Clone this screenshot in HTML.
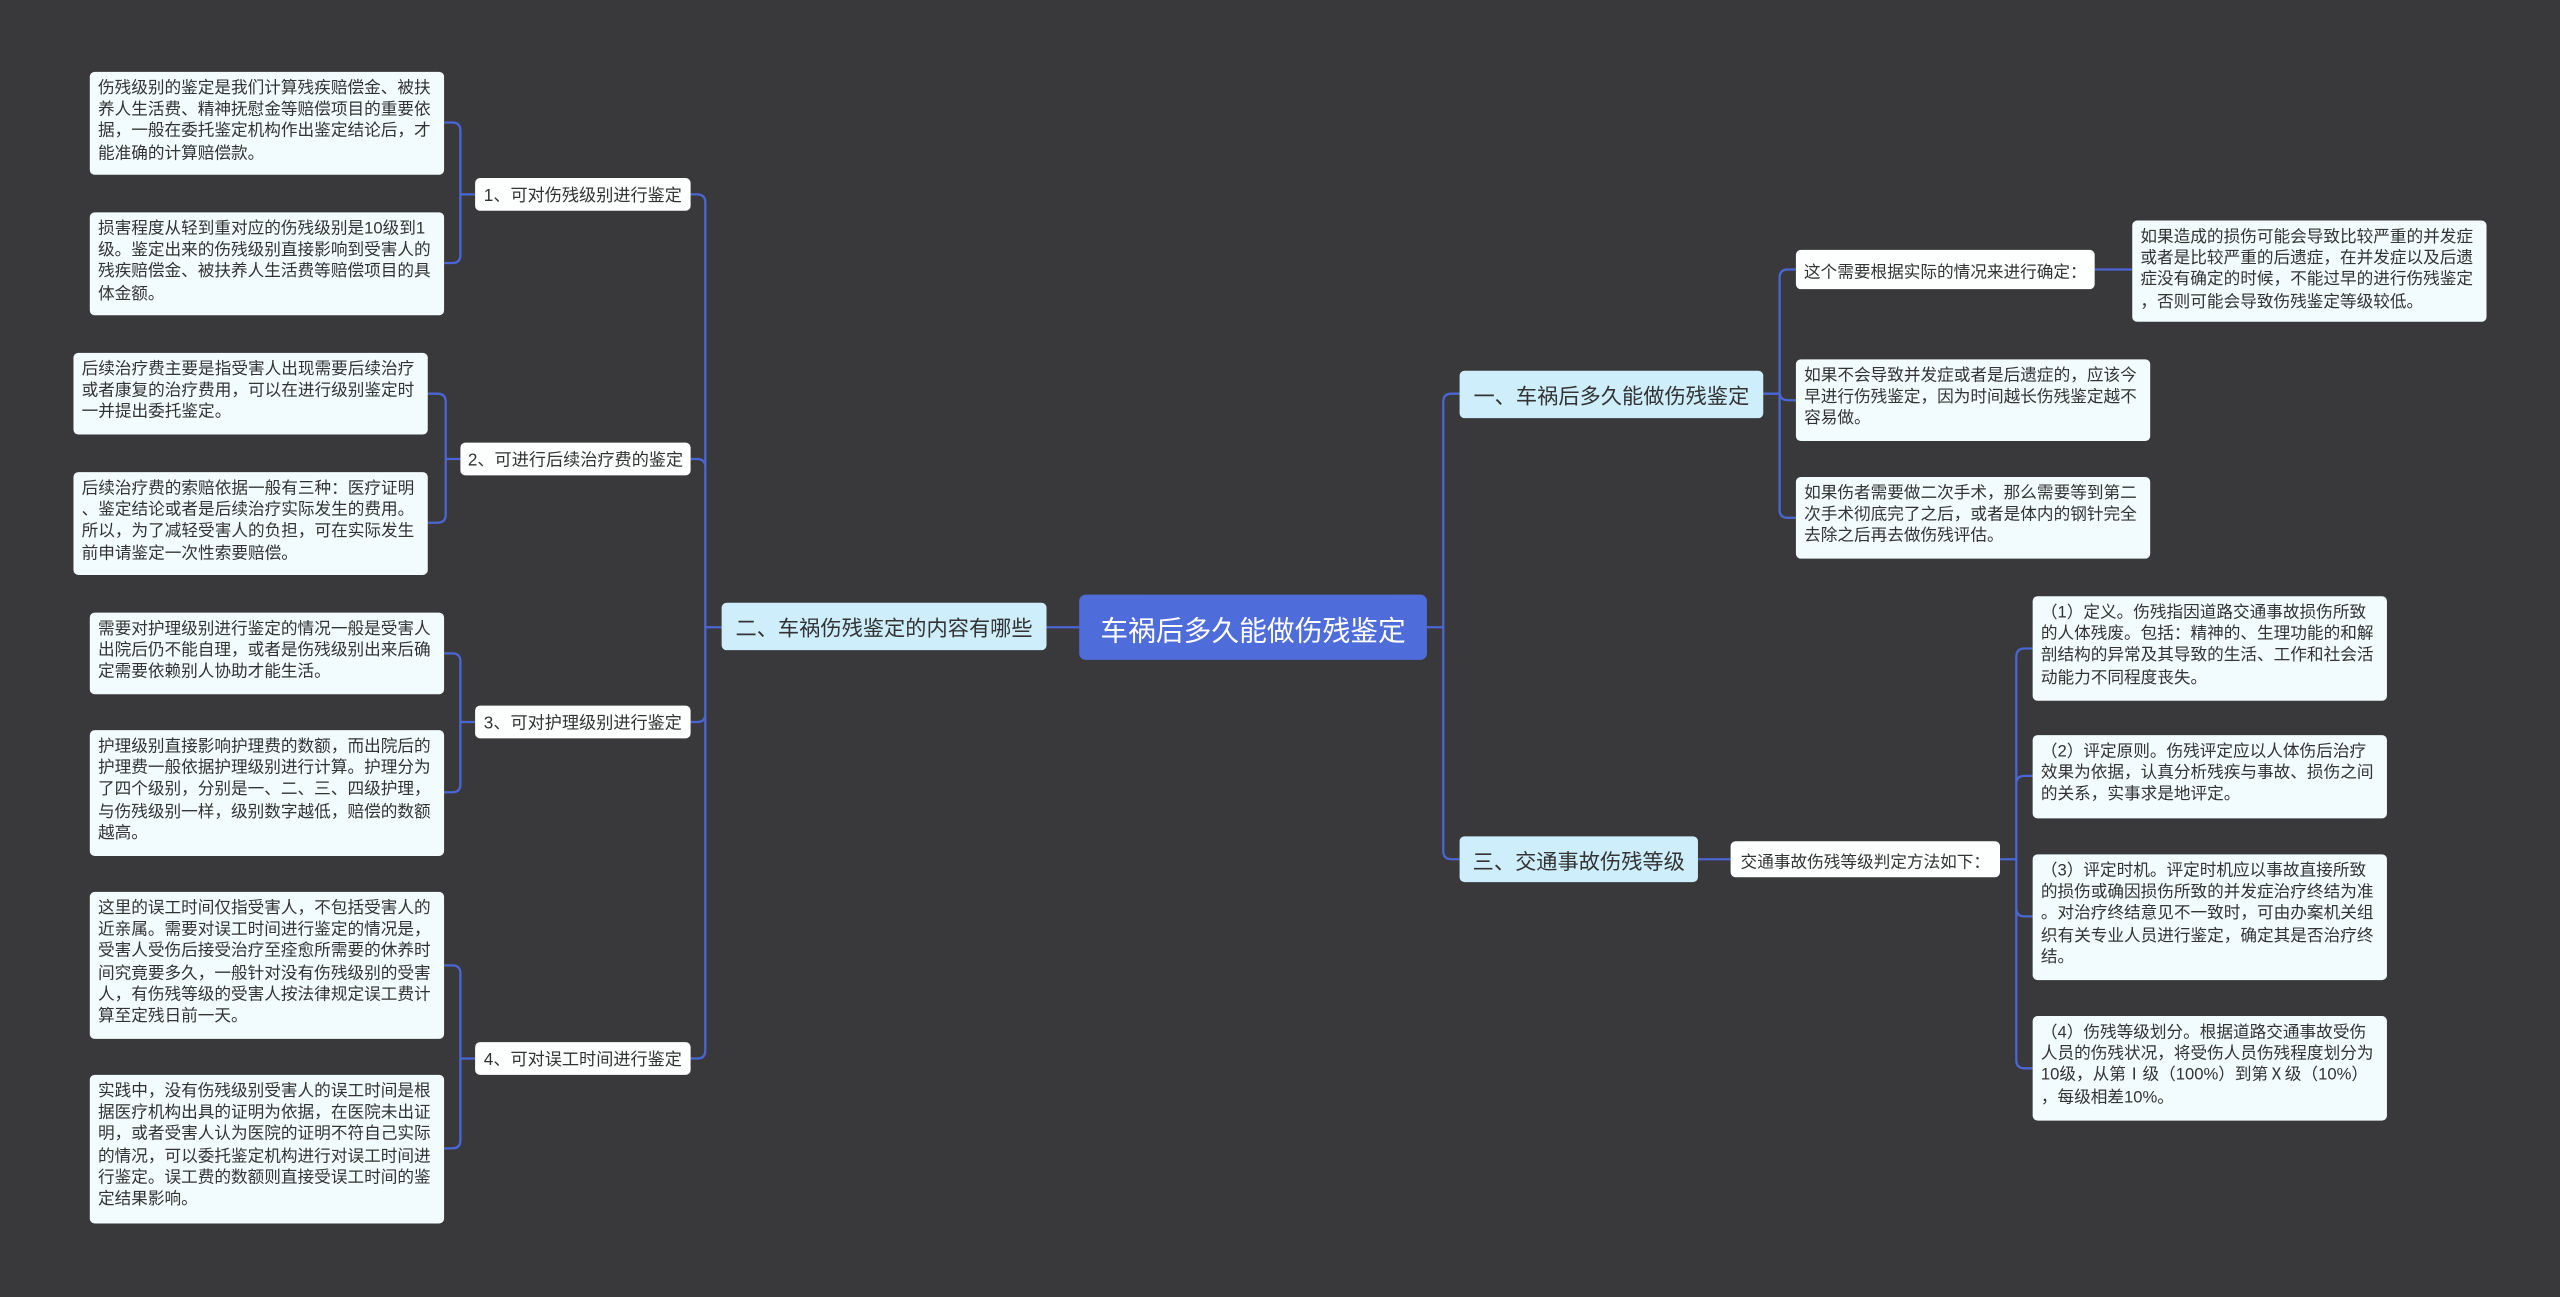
<!DOCTYPE html>
<html><head><meta charset="utf-8"><style>
html,body{margin:0;padding:0;background:#39383b;}
#wrap{width:2560px;height:1297px;overflow:hidden;position:relative;background:#39383b;}
#s{position:absolute;left:0;top:0;width:1568px;height:794px;transform:scale(1.63265,1.6335);transform-origin:0 0;font-family:"Liberation Sans","Noto Sans CJK SC",sans-serif;}
.b{position:absolute;box-sizing:border-box;border-radius:3px;white-space:nowrap;color:#333;}
.leaf{background:#f2fbfd;font-size:10.2px;line-height:13.2px;padding:4px 5px;}
.l2{background:#fdfefe;font-size:10.5px;display:flex;align-items:center;justify-content:center;}
.l1{background:#cdeefa;font-size:13px;display:flex;align-items:center;justify-content:center;color:#333;}
.c{background:#4f6cdb;color:#fff;font-size:17px;display:flex;align-items:center;justify-content:center;border-radius:4px;}
svg{position:absolute;left:0;top:0;}
</style></head><body><div id="wrap"><div id="s">
<svg width="1568" height="794" viewBox="0 0 1568 794"><g id="g" fill="none" stroke="#4a66d4" stroke-width="1.4"></g></svg>

<div class="b c" style="left:661px;top:364px;width:213px;height:40px">车祸后多久能做伤残鉴定</div>
<div class="b l1" style="left:442px;top:369px;width:199px;height:29px">二、车祸伤残鉴定的内容有哪些</div>
<div class="b l1" style="left:894px;top:227px;width:186px;height:29px">一、车祸后多久能做伤残鉴定</div>
<div class="b l1" style="left:894px;top:512px;width:146px;height:28px">三、交通事故伤残等级</div>

<div class="b l2" style="left:291px;top:109px;width:132px;height:20px">1、可对伤残级别进行鉴定</div>
<div class="b l2" style="left:282px;top:271px;width:141px;height:20px">2、可进行后续治疗费的鉴定</div>
<div class="b l2" style="left:291px;top:432px;width:132px;height:20px">3、可对护理级别进行鉴定</div>
<div class="b l2" style="left:291px;top:638px;width:132px;height:20px">4、可对误工时间进行鉴定</div>

<div class="b leaf" style="left:55px;top:44px;width:217px;height:63px">伤残级别的鉴定是我们计算残疾赔偿金、被扶<br>养人生活费、精神抚慰金等赔偿项目的重要依<br>据，一般在委托鉴定机构作出鉴定结论后，才<br>能准确的计算赔偿款。</div>
<div class="b leaf" style="left:55px;top:130px;width:217px;height:63px">损害程度从轻到重对应的伤残级别是10级到1<br>级。鉴定出来的伤残级别直接影响到受害人的<br>残疾赔偿金、被扶养人生活费等赔偿项目的具<br>体金额。</div>
<div class="b leaf" style="left:45px;top:216px;width:217px;height:50px">后续治疗费主要是指受害人出现需要后续治疗<br>或者康复的治疗费用，可以在进行级别鉴定时<br>一并提出委托鉴定。</div>
<div class="b leaf" style="left:45px;top:289px;width:217px;height:63px">后续治疗费的索赔依据一般有三种：医疗证明<br>、鉴定结论或者是后续治疗实际发生的费用。<br>所以，为了减轻受害人的负担，可在实际发生<br>前申请鉴定一次性索要赔偿。</div>
<div class="b leaf" style="left:55px;top:375px;width:217px;height:50px">需要对护理级别进行鉴定的情况一般是受害人<br>出院后仍不能自理，或者是伤残级别出来后确<br>定需要依赖别人协助才能生活。</div>
<div class="b leaf" style="left:55px;top:447px;width:217px;height:77px">护理级别直接影响护理费的数额，而出院后的<br>护理费一般依据护理级别进行计算。护理分为<br>了四个级别，分别是一、二、三、四级护理，<br>与伤残级别一样，级别数字越低，赔偿的数额<br>越高。</div>
<div class="b leaf" style="left:55px;top:546px;width:217px;height:90px">这里的误工时间仅指受害人，不包括受害人的<br>近亲属。需要对误工时间进行鉴定的情况是，<br>受害人受伤后接受治疗至痊愈所需要的休养时<br>间究竟要多久，一般针对没有伤残级别的受害<br>人，有伤残等级的受害人按法律规定误工费计<br>算至定残日前一天。</div>
<div class="b leaf" style="left:55px;top:658px;width:217px;height:91px">实践中，没有伤残级别受害人的误工时间是根<br>据医疗机构出具的证明为依据，在医院未出证<br>明，或者受害人认为医院的证明不符自己实际<br>的情况，可以委托鉴定机构进行对误工时间进<br>行鉴定。误工费的数额则直接受误工时间的鉴<br>定结果影响。</div>

<div class="b l2" style="left:1100px;top:153px;width:183px;height:24px;font-size:10.2px">这个需要根据实际的情况来进行确定：</div>
<div class="b leaf" style="left:1306px;top:135px;width:217px;height:62px">如果造成的损伤可能会导致比较严重的并发症<br>或者是比较严重的后遗症，在并发症以及后遗<br>症没有确定的时候，不能过早的进行伤残鉴定<br>，否则可能会导致伤残鉴定等级较低。</div>
<div class="b leaf" style="left:1100px;top:220px;width:217px;height:50px">如果不会导致并发症或者是后遗症的，应该今<br>早进行伤残鉴定，因为时间越长伤残鉴定越不<br>容易做。</div>
<div class="b leaf" style="left:1100px;top:292px;width:217px;height:50px">如果伤者需要做二次手术，那么需要等到第二<br>次手术彻底完了之后，或者是体内的钢针完全<br>去除之后再去做伤残评估。</div>

<div class="b l2" style="left:1060px;top:515px;width:165px;height:22px;font-size:10.2px">交通事故伤残等级判定方法如下：</div>
<div class="b leaf" style="left:1245px;top:365px;width:217px;height:64px">（1）定义。伤残指因道路交通事故损伤所致<br>的人体残废。包括：精神的、生理功能的和解<br>剖结构的异常及其导致的生活、工作和社会活<br>动能力不同程度丧失。</div>
<div class="b leaf" style="left:1245px;top:450px;width:217px;height:51px">（2）评定原则。伤残评定应以人体伤后治疗<br>效果为依据，认真分析残疾与事故、损伤之间<br>的关系，实事求是地评定。</div>
<div class="b leaf" style="left:1245px;top:523px;width:217px;height:77px">（3）评定时机。评定时机应以事故直接所致<br>的损伤或确因损伤所致的并发症治疗终结为准<br>。对治疗终结意见不一致时，可由办案机关组<br>织有关专业人员进行鉴定，确定其是否治疗终<br>结。</div>
<div class="b leaf" style="left:1245px;top:622px;width:217px;height:64px">（4）伤残等级划分。根据道路交通事故受伤<br>人员的伤残状况，将受伤人员伤残程度划分为<br>10级，从第Ⅰ级（100%）到第Ⅹ级（10%）<br>，每级相差10%。</div>
</div></div>
<script>
var g=document.getElementById('g'),d='';
function grp(px,py,bx,cx,ys){
 var dir=cx>bx?1:-1,r=5;
 ys.forEach(function(cy){
  if(Math.abs(cy-py)<1){d+='M'+px+' '+py+'H'+cx;return;}
  var s=cy>py?1:-1;
  d+='M'+px+' '+py+'H'+bx+'V'+(cy-s*r)+'Q'+bx+' '+cy+' '+(bx+dir*r)+' '+cy+'H'+cx;
 });
}
grp(661,384,651,641,[384]);
grp(442,384,432,423,[119,281,442,648]);
grp(291,119,282,272,[75,161]);
grp(282,281,273,262,[241,320]);
grp(291,442,282,272,[400,485]);
grp(291,648,282,272,[591,703]);
grp(874,384,884,894,[241,526]);
grp(1080,241,1090,1100,[165,245,317]);
grp(1283,165,1294,1306,[165]);
grp(1040,526,1050,1060,[526]);
grp(1225,526,1235,1245,[397,475,561,654]);
var p=document.createElementNS('http://www.w3.org/2000/svg','path');p.setAttribute('d',d);g.appendChild(p);
</script>
</body></html>
